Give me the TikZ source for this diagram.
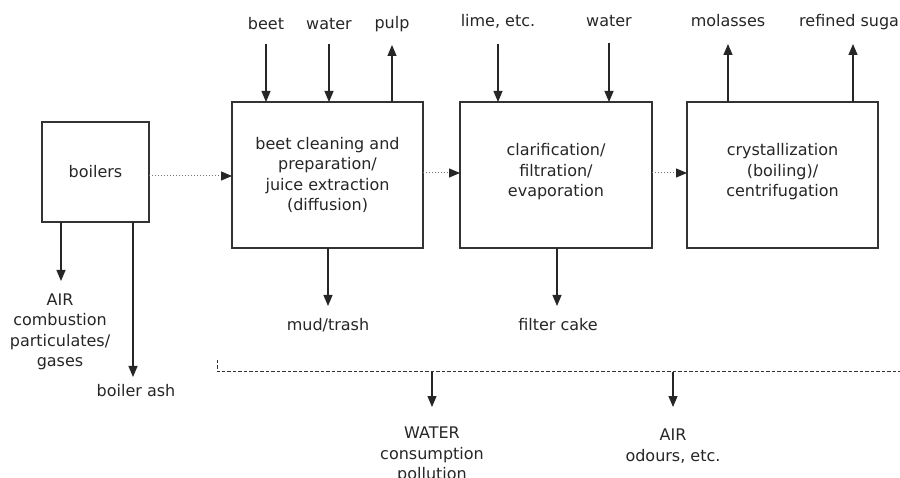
\documentclass[tikz,border=0pt]{standalone}
\usepackage{fontspec}
\setmainfont{DejaVu Sans}
\usetikzlibrary{arrows.meta}
\begin{document}
\begin{tikzpicture}[x=1pt,y=-1pt,
  every node/.style={font=\fontsize{16}{20.5}\selectfont, text=black!85, inner sep=0pt, align=center},
  proc/.style={draw=black!80, line width=1.4pt, rectangle},
  flow/.style={draw=black!85, line width=1.2pt, -{Triangle[length=11pt,width=9pt]}},
  link/.style={draw=black!55, line width=1pt, dotted, -{Triangle[length=11pt,width=9pt,fill=black!85,color=black!85]}},
  dashline/.style={draw=black!80, line width=1pt, dash pattern=on 3.5pt off 2pt}]
\useasboundingbox (0,0) rectangle (900,478);
\clip (0,0) rectangle (900,478);
% boxes
\draw[proc] (42,122) rectangle (149,222);
\node (boil) at (95.5,172) {boilers};
\draw[proc] (232,102) rectangle (423,248);
\node (box2) at (327.5,175) {beet cleaning and\\preparation/\\juice extraction\\(diffusion)};
\draw[proc] (460,102) rectangle (652,248);
\node (box3) at (556,172) {clarification/\\filtration/\\evaporation};
\draw[proc] (687,102) rectangle (878,248);
\node (box4) at (782.5,172) {crystallization\\(boiling)/\\centrifugation};
% connectors between boxes
\coordinate (c1a) at (149,176); \coordinate (c1b) at (232,176);
\coordinate (c2a) at (423,173); \coordinate (c2b) at (460,173);
\coordinate (c3a) at (652,173); \coordinate (c3b) at (687,173);
\draw[link] (c1a) -- (c1b);
\draw[link] (c2a) -- (c2b);
\draw[link] (c3a) -- (c3b);
% top labels
\node[anchor=base] (lbeet) at (266,30) {beet};
\node[anchor=base] (lwat1) at (329,30) {water};
\node[anchor=base] (lpulp) at (392,29) {pulp};
\node[anchor=base] (llime) at (498,27) {lime, etc.};
\node[anchor=base] (lwat2) at (609,27) {water};
\node[anchor=base] (lmol) at (728,27) {molasses};
\node[anchor=base west] (lsug) at (799,27) {refined sugar};
\draw[flow] (266,44) -- (266,102);
\draw[flow] (329,44) -- (329,102);
\draw[flow] (392,102) -- (392,45);
\draw[flow] (498,44) -- (498,102);
\draw[flow] (609,43) -- (609,102);
\draw[flow] (728,102) -- (728,44);
\draw[flow] (853,102) -- (853,44);
% boiler outputs
\draw[flow] (61,222) -- (61,281);
\draw[flow] (133,222) -- (133,377);
\node (lair1) at (60,332) {AIR\\combustion\\particulates/\\gases};
\node[anchor=base] (lash) at (136,396) {boiler ash};
% box outputs
\draw[flow] (328,248) -- (328,306);
\draw[flow] (557,248) -- (557,306);
\node[anchor=base] (lmud) at (328,331) {mud/trash};
\node[anchor=base] (lcake) at (558,331) {filter cake};
% dashed line
\draw[dashline] (217,360) -- (217,372) -- (902,372);
\draw[flow] (432,372) -- (432,407);
\draw[flow] (673,372) -- (673,407);
\node (lwater) at (432,455) {WATER\\consumption\\pollution};
\node (lair2) at (673,446) {AIR\\odours, etc.};
\end{tikzpicture}
\end{document}
